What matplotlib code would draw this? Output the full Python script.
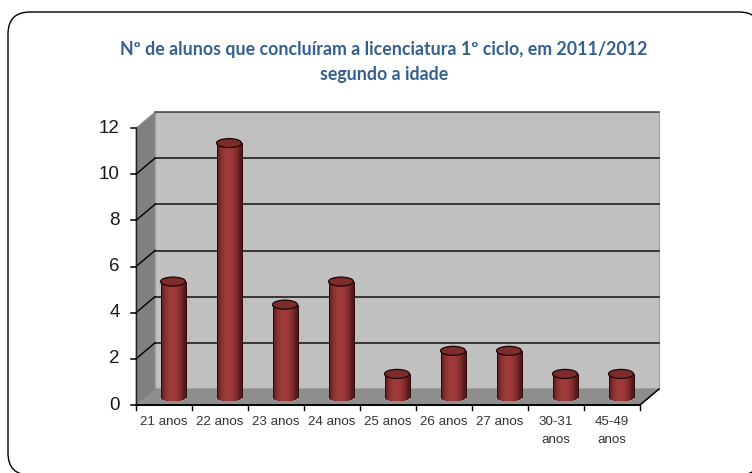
import numpy as np
import matplotlib
matplotlib.use("Agg")
import matplotlib.pyplot as plt
from matplotlib.patches import Polygon, Ellipse, FancyBboxPatch
from matplotlib.colors import LinearSegmentedColormap

# ---------- data ----------
categories = ["21 anos", "22 anos", "23 anos", "24 anos", "25 anos",
              "26 anos", "27 anos", "30-31\nanos", "45-49\nanos"]
values = [5, 11, 4, 5, 1, 2, 2, 1, 1]
yticks = [0, 2, 4, 6, 8, 10, 12]
title = "Nº de alunos que concluíram a licenciatura 1º ciclo, em 2011/2012\nsegundo a idade"

W, H = 752, 473
fig = plt.figure(figsize=(W / 100, H / 100), dpi=100, facecolor="white")

# page-level rounded frame (pixel coordinates); it runs off the right and bottom edges
bg = fig.add_axes([0, 0, 1, 1])
bg.set_xlim(0, W); bg.set_ylim(H, 0); bg.axis("off")
bg.add_patch(FancyBboxPatch((30, 34), 709, 419, boxstyle="round,pad=22,rounding_size=22",
                            fc="white", ec="black", lw=1.0, clip_on=True))

# front plane of the 3-D plot
L, R, T, B = 136, 640, 128, 405
ax = fig.add_axes([L / W, 1 - B / H, (R - L) / W, (B - T) / H])
ax.set_xlim(0, len(categories)); ax.set_ylim(0, 12); ax.axis("off")

pxx = len(categories) / (R - L)
pxy = 12 / (B - T)
dx, dy = 19 * pxx, 16 * pxy           # depth of the box
n = len(categories)

def poly(pts, **kw):
    ax.add_patch(Polygon(pts, closed=True, clip_on=False, **kw))

# walls
poly([(dx, dy), (n + dx, dy), (n + dx, 12 + dy), (dx, 12 + dy)], fc="#c0c0c0", ec="#a0a0a0", lw=0.8, zorder=1)
poly([(0, 0), (dx, dy), (dx, 12 + dy), (0, 12)], fc="#808080", ec="#9a9a9a", lw=0.6, zorder=1)
poly([(0, 0), (n, 0), (n + dx, dy), (dx, dy)], fc="#8e8e8e", ec="#808080", lw=0.6, zorder=1)

# gridlines
for v in yticks[1:]:
    ax.plot([dx, n + dx], [v + dy, v + dy], color="#111111" if v < 12 else "#444444",
            lw=1.1, zorder=2, clip_on=False)
    if v < 12:
        ax.plot([0, dx], [v, v + dy], color="black", lw=1.0, zorder=2, clip_on=False)

# axes lines
ax.plot([0, 0], [0, 12], color="#222222", lw=1.0, zorder=3, clip_on=False)
ax.plot([0, n], [0, 0], color="black", lw=1.4, zorder=3, clip_on=False)
ax.plot([n, n + dx], [0, dy], color="black", lw=1.1, zorder=3, clip_on=False)

# ticks and tick labels
for v in yticks:
    ax.plot([-5 * pxx, 0], [v, v], color="black", lw=1.1, zorder=3, clip_on=False)
    ax.text(-16 * pxx, v, str(v), ha="right", va="center", fontsize=13.5,
            family="Liberation Sans", color="#1a1a1a")
for i in range(n + 1):
    ax.plot([i, i], [0, -5 * pxy], color="black", lw=1.0, zorder=3, clip_on=False)
for i, c in enumerate(categories):
    ax.text(i + 0.5, -11 * pxy, c, ha="center", va="top", fontsize=9.6,
            family="Liberation Sans", color="#333333", linespacing=1.65)

# cylinders
cmap = LinearSegmentedColormap.from_list("cyl", ["#4f1616", "#86302f", "#a23c3c", "#9c3939", "#7c2b2b", "#4a1414"])
bw = 25 * pxx
eh = 9 * pxy
base = 8 * pxy
offs = 9 * pxx
strips = 26
for i, v in enumerate(values):
    xc = i + 0.5 + offs
    for k in range(strips):
        t = (k + 0.5) / strips
        x0 = xc - bw / 2 + k * bw / strips
        h = (eh / 2) * np.sqrt(max(0, 1 - (2 * t - 1) ** 2))
        ax.bar(x0, v + h, width=bw / strips * 1.05, bottom=base - h, align="edge",
               color=cmap(t), lw=0, zorder=4, clip_on=False)
    ax.plot([xc - bw / 2] * 2, [base, v + base], color="#2a0a0a", lw=0.7, zorder=5, clip_on=False)
    ax.plot([xc + bw / 2] * 2, [base, v + base], color="#2a0a0a", lw=0.7, zorder=5, clip_on=False)
    ax.add_patch(Ellipse((xc, v + base), bw, eh, fc="#7d2c2c", ec="#1a0505", lw=0.9, zorder=6, clip_on=False))

fig.text(384 / W, 1 - 62 / H, title, ha="center", va="center", fontsize=12.75, fontweight="bold",
         family="Lato", color="#34608f", linespacing=1.58)

fig.savefig("out.png", dpi=100)
